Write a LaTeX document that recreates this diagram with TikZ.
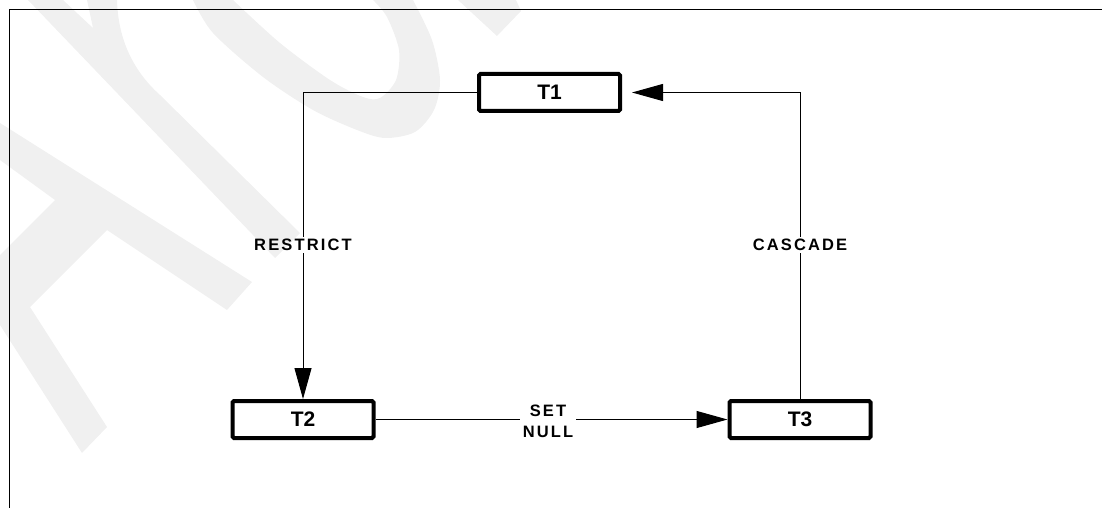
\documentclass[tikz,border=0pt]{standalone}
\usepackage{fontspec}
\setmainfont{Liberation Sans}
\newfontfamily\lblfont{Liberation Sans}[LetterSpace=13]
\usetikzlibrary{arrows.meta}

\begin{document}
\begin{tikzpicture}[x=1pt,y=-1pt,
  tbox/.style={draw, line width=4pt, rounded corners=1.5pt, fill=white,
    minimum width=141pt, minimum height=37pt, inner sep=0pt,
    font=\fontsize{21}{25}\selectfont\bfseries},
  link/.style={line width=1pt, -{Triangle[length=31pt,width=17pt]}},
  lbl/.style={fill=white, inner sep=2.5pt, align=center,
    font=\lblfont\fontsize{16.5}{21}\selectfont\bfseries},
  wmark/.style={fill=black, fill opacity=0.06},
  frameline/.style={line width=1pt}]
\useasboundingbox (0,0) rectangle (1102,508);

% page frame: top and left rules
\draw[frameline] (1102,10) -- (9,10) -- (9,508);

% tables
\node[tbox] (T1) at (549.5,92.5) {T1};
\node[tbox] (T2) at (303,419.5) {T2};
\node[tbox] (T3) at (800,419.5) {T3};

% referential constraints
\draw[link] (T1.west) -| (T2.north);
\draw[link] (T2.east) -- (T3.west);
\draw[link, shorten >=10pt] (T3.north) |- (T1.east);

% delete rules
\node[lbl] (restrict) at (303,245) {RESTRICT};
\node[lbl] (setnull) at (548,421) {SET\\NULL};
\node[lbl] (cascade) at (800,245) {CASCADE};

% faint background lettering
\fill[wmark] (28,0) -- (63,0) -- (93,28) -- (87,0) -- (117,0)
  .. controls (118,35) and (130,68) .. (160,95) -- (300,233) -- (275,258) -- cycle;
\fill[wmark] plot[smooth] coordinates {(193,0) (213,33) (263,77) (313,110) (357,130)
    (385,138) (415,132) (434,110) (440,80) (432,40) (413,0)}
  -- plot[smooth] coordinates {(373,0) (387,17) (399,50) (396,80) (380,98) (363,97)
    (330,80) (280,43) (233,0)} -- cycle;
\fill[wmark] (458,0) -- (497,36) -- (521,11) -- (516,0) -- cycle;
\fill[wmark] (0,123) -- (252,282) -- (227,310) -- (107,230) -- (30,307)
  -- (107,427) -- (82,453) -- (0,325) -- (0,255) -- (55,200) -- (0,160) -- cycle;
\end{tikzpicture}
\end{document}
